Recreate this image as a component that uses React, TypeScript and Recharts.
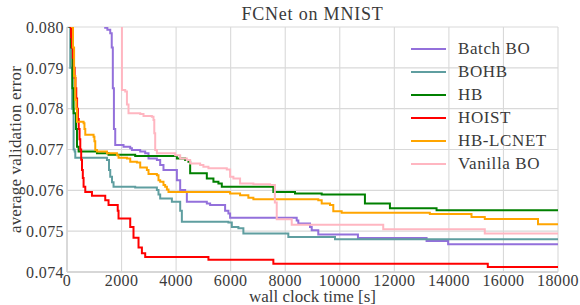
import React from 'react';
import { LineChart, Line, XAxis, YAxis, CartesianGrid, Legend } from 'recharts';

const FONT = '"Liberation Serif", "Times New Roman", serif';
const TEXT = '#3a3a3a';

const xTicks = [0, 2000, 4000, 6000, 8000, 10000, 12000, 14000, 16000, 18000];
const yTicks = [0.074, 0.075, 0.076, 0.077, 0.078, 0.079, 0.08];

const batchBO: [number, number][] = [
  [1350, 0.0803], [1400, 0.07998], [1480, 0.07993], [1585, 0.07985], [1640, 0.0795], [1680, 0.0785],
  [1720, 0.0775], [1768, 0.07711], [2072, 0.07707], [2318, 0.07703], [2380, 0.07699], [2684, 0.07695],
  [2867, 0.07691], [2988, 0.07678], [3295, 0.07674], [3416, 0.07662], [3537, 0.0765], [4028, 0.07625],
  [4149, 0.07601], [4332, 0.07596], [4394, 0.07572], [5126, 0.07568], [5247, 0.07564], [5796, 0.0755],
  [5917, 0.07543], [5979, 0.07533], [8421, 0.07526], [8480, 0.07519], [8908, 0.0751], [8971, 0.07502],
  [9212, 0.07492], [10666, 0.07483], [13182, 0.07476], [13972, 0.07468], [18000, 0.07468],
];

const bohb: [number, number][] = [
  [0, 0.0815], [40, 0.08], [120, 0.079], [190, 0.078], [242, 0.077], [280, 0.07695], [304, 0.0768],
  [1465, 0.07674], [1540, 0.0765], [1585, 0.07633], [1650, 0.0762], [1706, 0.07609], [2500, 0.07607],
  [3295, 0.07601], [3354, 0.0759], [3416, 0.0758], [3845, 0.07572], [4150, 0.0755], [4211, 0.07523],
  [5917, 0.07521], [6042, 0.0751], [6283, 0.07507], [6466, 0.07494], [8114, 0.07486], [9824, 0.0748],
  [18000, 0.0748],
];

const hb: [number, number][] = [
  [0, 0.0815], [100, 0.08], [150, 0.0795], [200, 0.0785], [242, 0.07789], [330, 0.0775], [366, 0.07707],
  [425, 0.07695], [1098, 0.07691], [1523, 0.07687], [2500, 0.07684], [4028, 0.07678], [4332, 0.07674],
  [4453, 0.0767], [4515, 0.07642], [5126, 0.07629], [5368, 0.07621], [5551, 0.07617], [5675, 0.07609],
  [7565, 0.07596], [8359, 0.07592], [9337, 0.0759], [10922, 0.07568], [11838, 0.07556], [13548, 0.07551],
  [18000, 0.07551],
];

const hoist: [number, number][] = [
  [0, 0.085], [120, 0.08], [150, 0.07975], [180, 0.0795], [215, 0.07925], [250, 0.079], [280, 0.07875],
  [310, 0.0785], [340, 0.07825], [370, 0.078], [400, 0.07775], [430, 0.0775], [460, 0.07725], [487, 0.077],
  [520, 0.07675], [550, 0.0765], [580, 0.0763], [608, 0.07609], [670, 0.07596], [915, 0.07587],
  [1402, 0.07576], [1523, 0.07564], [1860, 0.0755], [1889, 0.07531], [2318, 0.0751], [2438, 0.07484],
  [2622, 0.0746], [2746, 0.07446], [2867, 0.07437], [5185, 0.0743], [7565, 0.0742], [15426, 0.07412],
  [18000, 0.07412],
];

const hbLcnet: [number, number][] = [
  [0, 0.0815], [120, 0.0802], [183, 0.08], [220, 0.0795], [260, 0.0788], [304, 0.07822], [340, 0.078],
  [366, 0.07768], [608, 0.07764], [640, 0.0775], [670, 0.07736], [974, 0.07731], [1005, 0.0772],
  [1036, 0.07699], [1098, 0.07695], [1465, 0.07691], [1831, 0.07686], [1889, 0.0768], [2197, 0.07678],
  [2318, 0.0767], [2563, 0.07668], [2684, 0.07656], [2929, 0.0765], [2988, 0.0764], [3295, 0.07637],
  [3354, 0.07625], [3416, 0.07621], [3537, 0.07613], [3599, 0.07609], [3662, 0.07602], [3720, 0.07596],
  [5979, 0.07592], [6345, 0.07588], [6649, 0.07582], [6833, 0.07578], [9212, 0.07576], [9337, 0.07568],
  [9641, 0.07564], [9762, 0.07549], [10069, 0.07545], [13302, 0.07542], [14829, 0.07535], [15316, 0.0753],
  [17267, 0.07517], [18000, 0.07517],
];

const vanillaBO: [number, number][] = [
  [1977, 0.083], [2014, 0.07846], [2135, 0.07842], [2197, 0.0781], [2255, 0.07789], [2684, 0.07787],
  [2805, 0.07782], [3112, 0.0778], [3171, 0.07772], [3200, 0.0774], [3233, 0.07699], [3295, 0.07691],
  [3965, 0.07686], [4149, 0.07678], [4394, 0.07674], [4515, 0.07666], [4881, 0.07662], [5000, 0.07658],
  [5185, 0.07654], [5858, 0.07651], [5979, 0.07633], [6100, 0.07629], [6345, 0.07617], [6833, 0.07615],
  [7444, 0.07613], [7620, 0.0757], [7689, 0.07529], [8238, 0.07516], [11593, 0.07505], [15316, 0.07494],
  [18000, 0.07494],
];

const seriesNames = ['Batch BO', 'BOHB', 'HB', 'HOIST', 'HB-LCNET', 'Vanilla BO'];
const seriesColors = ['#9370DB', '#5F9EA0', '#008000', '#FF0000', '#FFA500', '#FFB6C1'];
const seriesData = [batchBO, bohb, hb, hoist, hbLcnet, vanillaBO];

const toRows = (pts: [number, number][]) => pts.map(([t, v]) => ({ t, v }));

const renderLegend = () => (
  <div style={{ fontFamily: FONT, fontSize: 17, color: TEXT, letterSpacing: 0.6 }}>
    {seriesNames.map((name, i) => (
      <div key={name} style={{ display: 'flex', alignItems: 'center', height: 23, whiteSpace: 'nowrap' }}>
        <span style={{ display: 'inline-block', width: 35, height: 0, borderTop: `2.5px solid ${seriesColors[i]}`, marginRight: 12 }} />
        <span>{name}</span>
      </div>
    ))}
  </div>
);

const YLabel = (props: any) => {
  const vb = props.viewBox || {};
  const cy = vb.y + vb.height / 2;
  const x = 21;
  return (
    <text x={x} y={cy} transform={`rotate(-90, ${x}, ${cy})`} textAnchor="middle"
      fontFamily={FONT} fontSize={17} fill={TEXT} style={{ letterSpacing: 0.2 }}>
      average validation error
    </text>
  );
};

const css = `.chart-root text, .chart-root tspan { font-family: "Liberation Serif", "Times New Roman", serif !important; }`;

export default function App() {
  return (
    <div className="chart-root" style={{ position: 'absolute', left: 0, top: 0, width: 580, height: 305, background: '#fff', fontFamily: FONT }}>
      <style>{css}</style>
      <div style={{ position: 'absolute', left: 67, top: 5, width: 491, textAlign: 'center', fontFamily: FONT, fontSize: 18, lineHeight: '18px', color: TEXT, letterSpacing: 0.8 }}>
        FCNet on MNIST
      </div>
      <LineChart width={580} height={305} margin={{ top: 27, right: 22, left: 0, bottom: 0 }} style={{ fontFamily: FONT }}>
        <CartesianGrid stroke="#d9d9d9" strokeWidth={1.1} />
        <XAxis
          type="number"
          dataKey="t"
          domain={[0, 18000]}
          ticks={xTicks}
          allowDataOverflow
          height={33}
          tickLine={false}
          tickSize={3}
          tickMargin={0}
          axisLine={{ stroke: '#d0d0d0', strokeWidth: 1.3 }}
          tick={{ fontFamily: FONT, fontSize: 16, fill: TEXT, letterSpacing: 0.4 }}
          interval={0}
          label={{ value: 'wall clock time [s]', position: 'insideBottom', offset: 3, fontFamily: FONT, fontSize: 17, fill: TEXT }}
        />
        <YAxis
          type="number"
          dataKey="v"
          domain={[0.074, 0.08]}
          ticks={yTicks}
          allowDataOverflow
          width={67}
          tickLine={false}
          tickSize={3}
          tickMargin={0}
          axisLine={{ stroke: '#d0d0d0', strokeWidth: 1.3 }}
          tick={{ fontFamily: FONT, fontSize: 16, fill: TEXT, letterSpacing: 0.4 }}
          tickFormatter={(v: number) => v.toFixed(3)}
          interval={0}
          label={<YLabel />}
        />
        <Legend
          layout="vertical"
          align="center"
          verticalAlign="middle"
          content={renderLegend}
          wrapperStyle={{ left: 411, top: 37, width: 140 }}
        />
        {seriesNames.map((name, i) => (
          <Line
            key={name}
            name={name}
            data={toRows(seriesData[i])}
            dataKey="v"
            type="stepAfter"
            stroke={seriesColors[i]}
            strokeWidth={2}
            dot={false}
            activeDot={false}
            isAnimationActive={false}
          />
        ))}
      </LineChart>
    </div>
  );
}
